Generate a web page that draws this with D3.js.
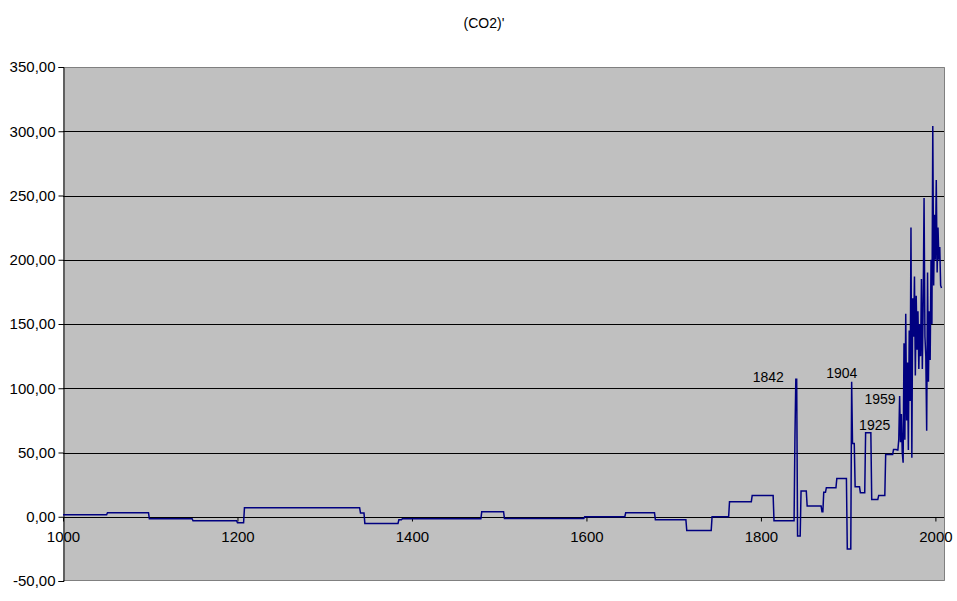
<!DOCTYPE html>
<html>
<head>
<meta charset="utf-8">
<script src="https://cdn.jsdelivr.net/npm/d3@7"></script>
<style>
  html, body { margin: 0; padding: 0; background: #ffffff; }
  svg { display: block; }
  text { font-family: "Liberation Sans", Arial, sans-serif; fill: #000; }
</style>
</head>
<body>
<svg id="chart" width="957" height="601"></svg>
<script>
// ---- data ----
const chartTitle = "(CO2)'";

// step segments (start year, value) for the early, piecewise-constant record
const segStartYears = [1000, 1051, 1099, 1149, 1200, 1208, 1341, 1346, 1385, 1389,
  1480, 1506, 1598, 1645, 1679, 1715, 1744, 1764, 1790, 1815,
  1839, 1840, 1842, 1846, 1853, 1870, 1872, 1875, 1887, 1899,
  1904, 1905, 1908, 1914, 1920, 1927, 1935, 1943, 1952];
const segValues = [1.5, 3.1, -1.6, -3.1, -4.7, 7.0, 3.0, -5.2, -2.3, -1.6,
  3.9, -1.3, 0, 3.1, -2.3, -10.7, 0, 11.7, 16.6, -3.1,
  62, 107, -15, 20, 8.3, 3.9, 19, 22.6, 29.8, -25,
  105, 57, 23.3, 18.7, 65.4, 13.5, 16.6, 48.5, 52.4];

// yearly values for the recent record
const lateFirstYear = 1956;
const lateValues = [52, 52, 60, 94, 58, 80, 50, 42, 135, 60,
  158, 75, 120, 52, 145, 90, 225, 46, 170, 140,
  187, 110, 172, 130, 160, 115, 150, 125, 185, 115,
  165, 248, 140, 125, 67, 190, 105, 160, 122, 200,
  150, 304, 180, 235, 200, 262, 190, 225, 200, 210,
  180, 178];

// axis ticks
const xTicks = [1000, 1200, 1400, 1600, 1800, 2000];
const yTicks = [-50, 0, 50, 100, 150, 200, 250, 300, 350];

// annotation labels (text, anchor year, anchor value)
const annoTexts = ["1842", "1904", "1959", "1925"];
const annoYears = [1808.4, 1892.6, 1936.5, 1930.4];
const annoValues = [104.9, 108, 87.7, 67.5];

// ---- build points ----
const points = [];
for (let i = 0; i < segStartYears.length; i++) {
  const s = segStartYears[i];
  const e = (i + 1 < segStartYears.length) ? segStartYears[i + 1] : lateFirstYear;
  points.push([s, segValues[i]]);
  if (e - 1 > s) points.push([e - 1, segValues[i]]);
}
lateValues.forEach((v, i) => points.push([lateFirstYear + i, v]));

// ---- layout ----
const L = 63, R = 945, T = 67, B = 581;
const svg = d3.select("#chart");
const x = d3.scaleLinear().domain([1000, 2011]).range([L, R]);
const y = d3.scaleLinear().domain([-50, 350]).range([B, T]);

// plot background
svg.append("rect").attr("x", L).attr("y", T).attr("width", R - L).attr("height", B - T)
  .attr("fill", "#c0c0c0");

// gridlines
svg.append("g").selectAll("line").data(yTicks.filter(v => v > -50 && v < 350)).join("line")
  .attr("x1", L).attr("x2", R)
  .attr("y1", d => Math.round(y(d)) + 0.5).attr("y2", d => Math.round(y(d)) + 0.5)
  .attr("stroke", "#000").attr("stroke-width", 1);

// plot border (top, right, bottom) gray
svg.append("path")
  .attr("d", `M${L},${T + 0.5}H${R - 0.5}V${B - 0.5}H${L}`)
  .attr("fill", "none").attr("stroke", "#808080").attr("stroke-width", 1);

// y axis
const yAxis = d3.axisLeft(y).tickValues(yTicks).tickSize(5).tickPadding(3)
  .tickFormat(d => d.toFixed(2).replace(".", ","));
const gy = svg.append("g").attr("transform", `translate(${L + 0.5},0)`).call(yAxis);
gy.select(".domain").attr("stroke", "#000");
gy.selectAll("text").attr("font-size", 15).attr("font-family", "Liberation Sans, Arial, sans-serif");

// x axis at zero
const xAxis = d3.axisBottom(x).tickValues(xTicks).tickSize(4).tickPadding(10)
  .tickFormat(d3.format("d"));
const gx = svg.append("g").attr("transform", `translate(0,${Math.round(y(0)) + 0.5})`).call(xAxis);
gx.select(".domain").remove();
gx.selectAll("text").attr("font-size", 15).attr("font-family", "Liberation Sans, Arial, sans-serif");

// series line
const line = d3.line().x(d => x(d[0])).y(d => y(d[1])).curve(d3.curveLinear);
svg.append("path").datum(points)
  .attr("d", line)
  .attr("fill", "none")
  .attr("stroke", "#000080")
  .attr("stroke-width", 1.5)
  .attr("stroke-linejoin", "miter");

// annotations
svg.append("g").selectAll("text").data(annoTexts).join("text")
  .attr("x", (d, i) => x(annoYears[i]))
  .attr("y", (d, i) => y(annoValues[i]))
  .attr("text-anchor", "middle")
  .attr("font-size", 14)
  .text(d => d);

// title
svg.append("text").attr("x", 484).attr("y", 28).attr("text-anchor", "middle")
  .attr("font-size", 14).text(chartTitle);
</script>
</body>
</html>
